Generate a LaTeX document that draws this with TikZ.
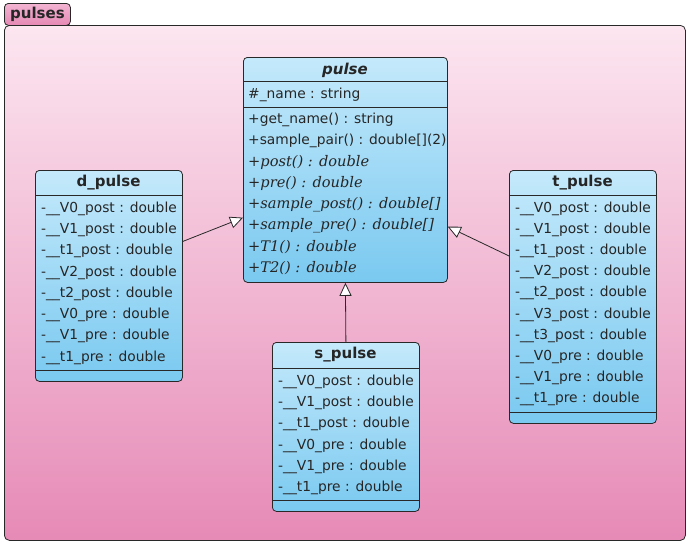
\documentclass[tikz,border=0pt]{standalone}
\usepackage{fontspec}
\setmainfont{DejaVu Sans}
\newfontfamily\opfont{DejaVu Serif}
\usetikzlibrary{arrows.meta}
\definecolor{pkgtop}{RGB}{252,230,240}
\definecolor{pkgbot}{RGB}{230,138,182}
\definecolor{tabtop}{RGB}{243,180,210}
\definecolor{tabbot}{RGB}{229,136,180}
\definecolor{clstop}{RGB}{196,233,251}
\definecolor{clsbot}{RGB}{122,201,240}
\definecolor{edge}{RGB}{40,40,40}

\tikzset{
  cls/.style={draw=edge, line width=.8pt, rounded corners=4pt, top color=clstop, bottom color=clsbot, anchor=north west, inner sep=0pt},
  sep/.style={draw=edge, line width=.8pt},
  title/.style={inner sep=0pt, text=black!85, font=\fontsize{15}{18}\selectfont\bfseries},
  attr/.style={anchor=west, inner sep=0pt, text=black!85, font=\fontsize{13.8}{16}\selectfont},
  op/.style={attr, font=\fontsize{14.6}{17}\selectfont\opfont\itshape},
  gen/.style={draw=edge, line width=.8pt, -{Triangle[length=13pt, width=12pt, fill=white]}},
}

\begin{document}
\begin{tikzpicture}[x = 1pt, y = -1pt]
\useasboundingbox (0,0) rectangle (687,542);

% package frame and its tab
\node (tab) [draw=edge, line width=.8pt, rounded corners=4pt, top color=tabtop, bottom color=tabbot, anchor=north west, minimum width=66pt, minimum height=22pt, inner sep=0pt, font=\fontsize{15}{18}\selectfont\bfseries, text=black!85] at (4,3) {pulses};
\node (pkg) [draw=edge, line width=.8pt, rounded corners=5pt, top color=pkgtop, bottom color=pkgbot, anchor=north west, minimum width=681pt, minimum height=515pt, inner sep=0pt] at (4,25) {};

% base class
\node (pulse) [cls, minimum width=204pt, minimum height=225pt] at (243,57) {};
\draw[sep] (243,81) -- (447,81);
\draw[sep] (243,107) -- (447,107);
\node[title] (pulse-name) at (345,70) {\itshape pulse};
\node[attr] (pulse-a1) at (248,95) {\#\_name : string};
\foreach \txt [count = \i] in {+get\_name() : string, +sample\_pair() : double[](2)}
  \node[attr] (pulse-m\i) at (248,120+21.2*\i-21.2) {\txt};
\foreach \txt [count = \i from 3] in {+post() : double, +pre() : double, +sample\_post() : double[], +sample\_pre() : double[], +T1() : double, +T2() : double}
  \node[op] (pulse-m\i) at (248,120+21.2*\i-21.2) {\txt};

% d_pulse
\node (dpulse) [cls, minimum width=147pt, minimum height=211pt] at (35,170) {};
\draw[sep] (35,195) -- (182,195);
\draw[sep] (35,370) -- (182,370);
\node[title] (dpulse-name) at (108.5,183) {d\_pulse};
\foreach \txt [count = \i] in {V0\_post, V1\_post, t1\_post, V2\_post, t2\_post, V0\_pre, V1\_pre, t1\_pre}
  \node[attr] (dpulse-a\i) at (41,208.5+21.3*\i-21.3) {-\_\_\txt{} : double};

% t_pulse
\node (tpulse) [cls, minimum width=147pt, minimum height=253pt] at (509,170) {};
\draw[sep] (509,195) -- (656,195);
\draw[sep] (509,412) -- (656,412);
\node[title] (tpulse-name) at (582.5,183) {t\_pulse};
\foreach \txt [count = \i] in {V0\_post, V1\_post, t1\_post, V2\_post, t2\_post, V3\_post, t3\_post, V0\_pre, V1\_pre, t1\_pre}
  \node[attr] (tpulse-a\i) at (515,208.5+21.2*\i-21.2) {-\_\_\txt{} : double};

% s_pulse
\node (spulse) [cls, minimum width=147pt, minimum height=169pt] at (272,342) {};
\draw[sep] (272,368) -- (419,368);
\draw[sep] (272,500) -- (419,500);
\node[title] (spulse-name) at (345.5,355) {s\_pulse};
\foreach \txt [count = \i] in {V0\_post, V1\_post, t1\_post, V0\_pre, V1\_pre, t1\_pre}
  \node[attr] (spulse-a\i) at (278,381.5+21.3*\i-21.3) {-\_\_\txt{} : double};

% generalisations
\draw[gen] (dpulse.25) -- (pulse.205);
\draw[gen] (tpulse.151) -- (pulse.-29);
\draw[gen] (spulse.north) -- (pulse.south);
\end{tikzpicture}
\end{document}
